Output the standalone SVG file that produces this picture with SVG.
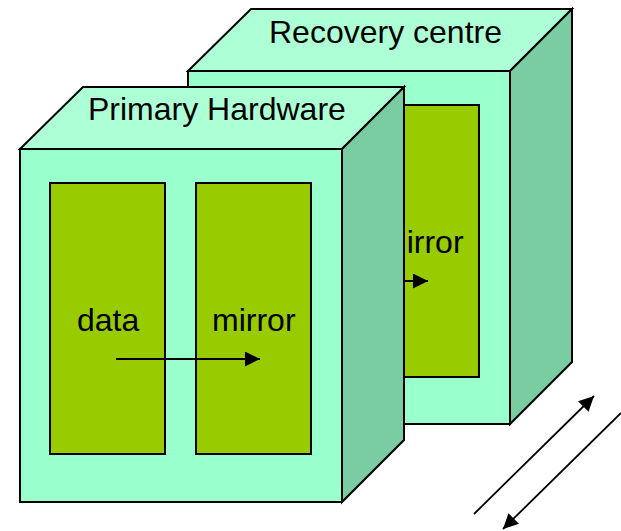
<svg xmlns="http://www.w3.org/2000/svg" width="621" height="531" viewBox="0 0 621 531">
  <style>
    .front { fill: #99FFCC; stroke: #000; stroke-width: 2; stroke-linejoin: miter; }
    .top { fill: #ADFFD6; stroke: #000; stroke-width: 2; stroke-linejoin: miter; }
    .side { fill: #7ACCA3; stroke: #000; stroke-width: 2; stroke-linejoin: miter; }
    .slot { fill: #99CC00; stroke: #000; stroke-width: 2; }
    .label { font-family: "Liberation Sans", Arial, sans-serif; font-size: 32px; fill: #000; }
    .flow { stroke: #000; stroke-width: 1.8; fill: none; marker-end: url(#head); }
  </style>
  <defs>
    <marker id="head" markerUnits="userSpaceOnUse" markerWidth="16" markerHeight="16" refX="15" refY="7.5" orient="auto">
      <path d="M0,0 L15,7.5 L0,15 z" fill="#000"/>
    </marker>
    <!-- region of the back cube not hidden behind the front cube -->
    <clipPath id="behind-front">
      <rect x="405" y="0" width="216" height="531"/>
    </clipPath>
  </defs>

  <!-- back cube -->
  <g id="recovery-centre">
    <polygon class="top" points="188,71 251,9 572,9 510,71"/>
    <polygon class="side" points="510,71 572,9 572,362 510,424"/>
    <rect class="front" x="188" y="71" width="322" height="353"/>
    <rect id="rc-data" class="slot" x="218" y="105" width="115" height="272"/>
    <rect id="rc-mirror" class="slot" x="364" y="105" width="115" height="272"/>
    <text class="label" x="269" y="43">Recovery centre</text>
    <text class="label" x="380" y="253">mirror</text>
  </g>

  <!-- front cube -->
  <g id="primary-hardware">
    <polygon class="top" points="20,149 83,87 404,87 342,149"/>
    <polygon class="side" points="342,149 404,87 404,440 342,502"/>
    <rect class="front" x="20" y="149" width="322" height="353"/>
    <rect id="ph-data" class="slot" x="50" y="183" width="115" height="271"/>
    <rect id="ph-mirror" class="slot" x="196" y="183" width="115" height="271"/>
    <text class="label" x="88" y="120">Primary Hardware</text>
    <text class="label" x="77" y="331">data</text>
    <text class="label" x="212" y="331">mirror</text>
  </g>

  <!-- connectors -->
  <g id="connectors">
    <line class="flow" x1="284" y1="281" x2="428" y2="281" clip-path="url(#behind-front)"/>
    <line class="flow" x1="116" y1="359" x2="260" y2="359"/>
    <line class="flow" x1="474" y1="514" x2="594" y2="396"/>
    <line class="flow" x1="621" y1="413" x2="503" y2="529"/>
  </g>
</svg>
